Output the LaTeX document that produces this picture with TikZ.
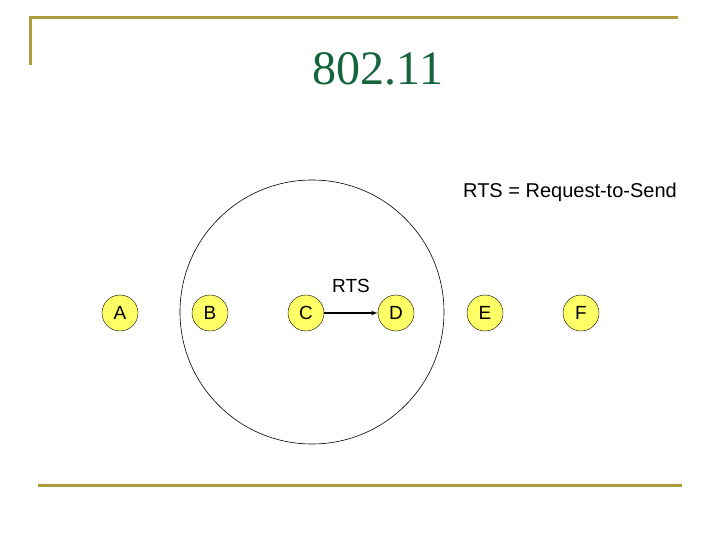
\documentclass[tikz,border=0pt]{standalone}
\usepackage{fontspec}
\setmainfont{Liberation Sans}
\newfontfamily\titlefont{Liberation Serif}
\usetikzlibrary{arrows}
\definecolor{gold}{RGB}{170,155,60}
\definecolor{titlegreen}{RGB}{20,100,60}
\definecolor{nodeyellow}{RGB}{255,255,102}
\tikzstyle{station} = [circle, draw, fill=nodeyellow, minimum size=36pt,
    inner sep=0pt, font=\fontsize{19}{21}\selectfont]
\tikzstyle{line} = [draw, line width=1.2pt, -latex']
\tikzstyle{rule} = [draw=gold, line width=3pt]

\begin{document}
\begin{tikzpicture}[x=1pt,y=-1pt,node distance=90pt]
    \useasboundingbox (0,0) rectangle (720,540);
    % Frame and title
    \path [rule] (30,65) -- (30,18) -- (678,18);
    \path [rule] (38,485) -- (682,485);
    \node[anchor=base, text=titlegreen, font=\titlefont\fontsize{48}{50}\selectfont] (title) at (378,85) {802.11};
    \node[anchor=base, font=\fontsize{20}{22}\selectfont] (legend) at (570,197) {RTS = Request-to-Send};
    % Range of C
    \node[circle, draw, line width=0.6pt, minimum size=264pt] (range) at (312,312) {};
    % Place nodes
    \node[station] (a) at (120,313) {A};
    \node[station, right of=a] (b) {B};
    \node[station, right of=b, node distance=96pt] (c) {C};
    \node[station, right of=c] (d) {D};
    \node[station, right of=d, node distance=89pt] (e) {E};
    \node[station, right of=e, node distance=96pt] (f) {F};
    % Draw edges
    \path [line] (c) -- node[above=16pt, font=\fontsize{19}{21}\selectfont] (rts) {RTS} (d);
\end{tikzpicture}
\end{document}
